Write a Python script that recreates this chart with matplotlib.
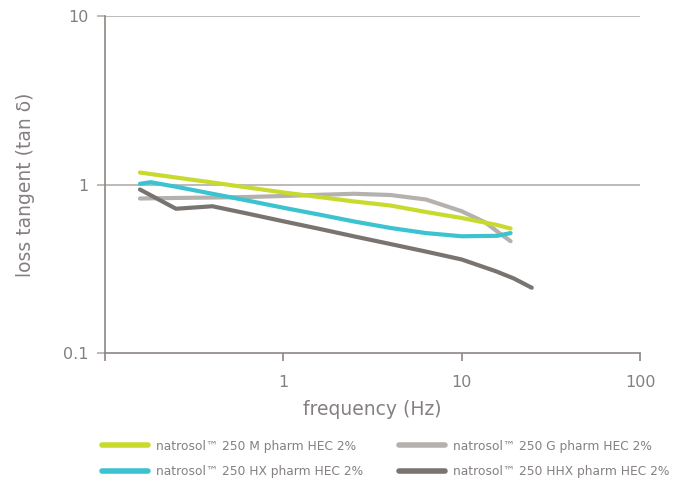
import matplotlib
matplotlib.use("Agg")
import matplotlib.pyplot as plt
from matplotlib.ticker import FixedLocator, FixedFormatter, NullLocator

# ---- data ----
freq_m = [0.157, 0.25, 0.4, 0.63, 1.0, 1.6, 2.5, 4.0, 6.3, 10.0, 15.8, 18.8]
tan_m = [1.178, 1.10, 1.028, 0.960, 0.897, 0.842, 0.793, 0.750, 0.687, 0.633, 0.575, 0.548]

freq_hx = [0.157, 0.18, 0.25, 0.4, 0.63, 1.0, 1.6, 2.5, 4.0, 6.3, 10.0, 15.8, 18.8]
tan_hx = [1.010, 1.032, 0.970, 0.881, 0.803, 0.728, 0.662, 0.603, 0.552, 0.515, 0.493, 0.496, 0.515]

freq_g = [0.157, 0.25, 0.4, 0.63, 1.0, 1.6, 2.5, 4.0, 6.3, 10.0, 13.6, 16.1, 18.8]
tan_g = [0.826, 0.832, 0.837, 0.843, 0.855, 0.869, 0.881, 0.866, 0.815, 0.694, 0.595, 0.519, 0.461]

freq_hhx = [0.157, 0.25, 0.4, 0.63, 1.0, 1.6, 2.5, 4.0, 6.3, 10.0, 15.5, 19.6, 24.7]
tan_hhx = [0.934, 0.718, 0.743, 0.672, 0.605, 0.545, 0.492, 0.443, 0.400, 0.359, 0.306, 0.277, 0.244]

labels = ["natrosol\u2122 250 M pharm HEC 2%",
          "natrosol\u2122 250 HX pharm HEC 2%",
          "natrosol\u2122 250 G pharm HEC 2%",
          "natrosol\u2122 250 HHX pharm HEC 2%"]

x_ticks = [0.1, 1, 10, 100]
x_ticklabels = ["", "1", "10", "100"]
y_ticks = [0.1, 1, 10]
y_ticklabels = ["0.1", "1", "10"]

# ---- style ----
c_m = "#c9da2f"
c_hx = "#3cc3d0"
c_g = "#b5b1ae"
c_hhx = "#7a7471"
txt = "#858080"
spine_c = "#8c8683"
grid_c = "#b3aeac"

plt.rcParams['font.family'] = ['DejaVu Sans']

fig = plt.figure(figsize=(6.78, 4.82), dpi=100)
ax = fig.add_axes([0.1549, 0.2676, 0.944 - 0.1549, 0.9668 - 0.2676])
ax.set_xscale("log")
ax.set_yscale("log")
ax.set_xlim(0.1, 100)
ax.set_ylim(0.1, 10)

lw = 3.0
l1, = ax.plot(freq_m, tan_m, color=c_m, lw=lw, solid_capstyle="round", zorder=3)
l2, = ax.plot(freq_hx, tan_hx, color=c_hx, lw=lw, solid_capstyle="round", zorder=3)
l3, = ax.plot(freq_g, tan_g, color=c_g, lw=lw, solid_capstyle="round", zorder=2)
l4, = ax.plot(freq_hhx, tan_hhx, color=c_hhx, lw=lw, solid_capstyle="round", zorder=3)

# grid lines at 1 and 10
for yv in [1, 10]:
    ax.axhline(yv, color=grid_c, lw=1.2, zorder=1)

for s in ["top", "right"]:
    ax.spines[s].set_visible(False)
for s in ["left", "bottom"]:
    ax.spines[s].set_color(spine_c)
    ax.spines[s].set_linewidth(1.2)

ax.xaxis.set_major_locator(FixedLocator(x_ticks))
ax.xaxis.set_major_formatter(FixedFormatter(x_ticklabels))
ax.xaxis.set_minor_locator(NullLocator())
ax.yaxis.set_major_locator(FixedLocator(y_ticks))
ax.yaxis.set_major_formatter(FixedFormatter(y_ticklabels))
ax.yaxis.set_minor_locator(NullLocator())

ax.tick_params(axis="x", direction="out", length=6, width=1.2, color=spine_c,
               labelcolor=txt, labelsize=11.5, pad=10)
ax.tick_params(axis="y", direction="out", length=6, width=1.2, color=grid_c,
               labelcolor=txt, labelsize=11.5, pad=6)

ax.set_xlabel("frequency (Hz)", color=txt, fontsize=13.5, labelpad=7)
ax.set_ylabel("loss tangent (tan \u03b4)", color=txt, fontsize=13.5, labelpad=20)

leg = fig.legend([l1, l2, l3, l4], labels, ncol=2, loc="upper left",
                 bbox_to_anchor=(0.143, 0.098), frameon=False,
                 fontsize=8.8, handlelength=3.8, handletextpad=0.65,
                 columnspacing=2.9, labelspacing=1.05, borderaxespad=0)
for t in leg.get_texts():
    t.set_color(txt)
for h in leg.legend_handles:
    h.set_linewidth(4)

fig.savefig("out.png", dpi=100)
